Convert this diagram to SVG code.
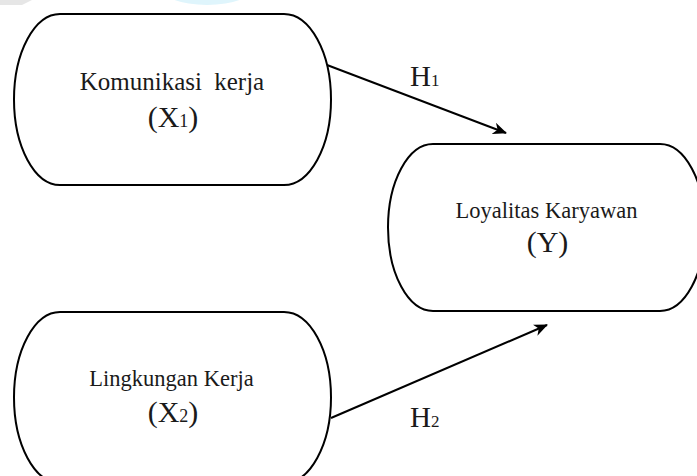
<svg xmlns="http://www.w3.org/2000/svg" width="697" height="476" viewBox="0 0 697 476">
<style>
.node{fill:#ffffff;stroke:#000000;stroke-width:2}
.edge{fill:none;stroke:#000000;stroke-width:2}
.t{font-family:"Liberation Serif","Times New Roman",serif;fill:#1a1a1a;text-anchor:middle}
.lbl{font-family:"Liberation Serif","Times New Roman",serif;fill:#1a1a1a}
</style>
<defs>
<marker id="arr" markerUnits="userSpaceOnUse" markerWidth="14" markerHeight="12" viewBox="0 0 14 12" refX="13" refY="6" orient="auto">
<path d="M0,0 L14,6 L0,12 L4,6 Z" fill="#000000"/>
</marker>
</defs>
<rect width="697" height="476" fill="#ffffff"/>
<ellipse cx="207" cy="-14" rx="48" ry="19" fill="#dff5fc"/>
<path d="M0,0 H32 L22,5 H0 Z" fill="#e6e6e6"/>
<g id="edges">
<path class="edge" d="M327,65 L506,133" marker-end="url(#arr)"/>
<path class="edge" d="M331,418 L547,325" marker-end="url(#arr)"/>
<text class="lbl" x="410" y="86" font-size="29">H<tspan font-size="17">1</tspan></text>
<text class="lbl" x="410" y="427" font-size="29">H<tspan font-size="17">2</tspan></text>
</g>
<g id="node-x1">
<path class="node" d="M60,14 H284 A47,85.5 0 0 1 284,185 H60 A46,85.5 0 0 1 60,14 Z"/>
<text class="t" x="172" y="90" font-size="25" word-spacing="6">Komunikasi kerja</text>
<text class="t" x="173" y="127" font-size="30">(X<tspan font-size="18">1</tspan>)</text>
</g>
<g id="node-y">
<path class="node" d="M433,144 H660 A45,83.5 0 0 1 660,311 H433 A45,83.5 0 0 1 433,144 Z"/>
<text class="t" x="546.5" y="218" font-size="22.5">Loyalitas Karyawan</text>
<text class="t" x="547.5" y="252" font-size="30">(Y)</text>
</g>
<g id="node-x2">
<path class="node" d="M60,312 H284 A47,85.5 0 0 1 284,483 H60 A46,85.5 0 0 1 60,312 Z"/>
<text class="t" x="171.5" y="386" font-size="22.5">Lingkungan Kerja</text>
<text class="t" x="173" y="422" font-size="30">(X<tspan font-size="18">2</tspan>)</text>
</g>
</svg>
